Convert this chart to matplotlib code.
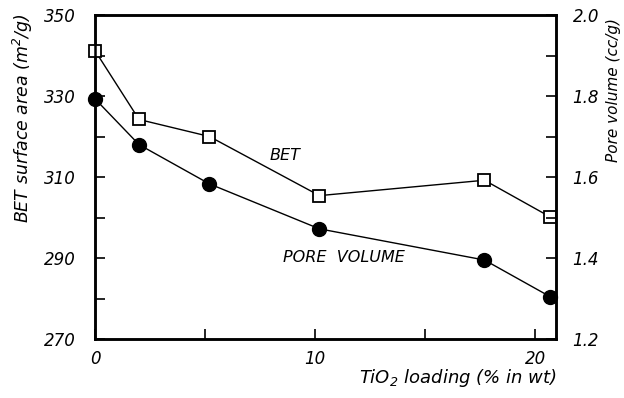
import numpy as np
import matplotlib
matplotlib.use("Agg")
import matplotlib.pyplot as plt
from matplotlib.ticker import MultipleLocator, FixedLocator

# TiO2 loading (% in wt)
loading = [0, 2.0, 5.2, 10.2, 17.7, 20.7]
# BET surface area (m2/g)
bet = [341.2, 324.2, 320.0, 305.4, 309.2, 300.1]
# Pore volume (cc/g)
pore_volume = [1.793, 1.680, 1.583, 1.472, 1.395, 1.304]

bet_ticks = [270, 290, 310, 330, 350]
pv_ticks = [1.2, 1.4, 1.6, 1.8, 2.0]

plt.rcParams['font.family'] = 'DejaVu Sans'
plt.rcParams['font.style'] = 'italic'

fig = plt.figure(figsize=(6.24, 3.98), dpi=100)
ax = fig.add_axes([95 / 624, 1 - 339 / 398, 461 / 624, 324 / 398])
ax2 = ax.twinx()

ax.plot(loading, bet, '-', color='black', lw=1.0, marker='s', ms=9,
        mfc='white', mec='black', mew=1.3, clip_on=False, zorder=5)
ax2.plot(loading, pore_volume, '-', color='black', lw=1.0, marker='o', ms=10,
         mfc='black', mec='black', clip_on=False, zorder=5)

ax.set_xlim(0, 20.95)
ax.set_ylim(270, 350)
ax2.set_ylim(1.2, 2.0)

ax.xaxis.set_major_locator(MultipleLocator(10))
ax.xaxis.set_minor_locator(MultipleLocator(5))
ax.yaxis.set_major_locator(FixedLocator(bet_ticks))
ax.yaxis.set_minor_locator(FixedLocator([280, 300, 320, 340]))
ax2.yaxis.set_major_locator(FixedLocator(pv_ticks))
ax2.yaxis.set_minor_locator(FixedLocator([1.3, 1.5, 1.7, 1.9]))
ax2.yaxis.set_major_formatter(plt.FuncFormatter(lambda v, p: f'{v:.1f}'))

for a in (ax, ax2):
    for s in a.spines.values():
        s.set_linewidth(1.8)
    a.tick_params(which='both', direction='in', labelsize=12, width=1.2, length=7)
ax.tick_params(axis='x', pad=8)
ax.tick_params(axis='y', pad=14)
ax2.tick_params(axis='y', pad=12)

ax.set_ylabel('BET surface area (m$^2$/g)', fontsize=12.5)
ax.yaxis.set_label_coords(-0.13, 0.68)
ax2.set_ylabel('Pore volume (cc/g)', fontsize=11, rotation=90)
ax2.yaxis.set_label_coords(1.108, 0.77)
ax.set_xlabel('TiO$_2$ loading (% in wt)', fontsize=13, va='top')
ax.xaxis.set_label_coords(0.787, -0.085)

ax.text(8.65, 315.4, 'BET', fontsize=11.5, ha='center', va='center')
ax.text(11.3, 290, 'PORE  VOLUME', fontsize=11.5, ha='center', va='center')

fig.savefig('out.png', dpi=100)
